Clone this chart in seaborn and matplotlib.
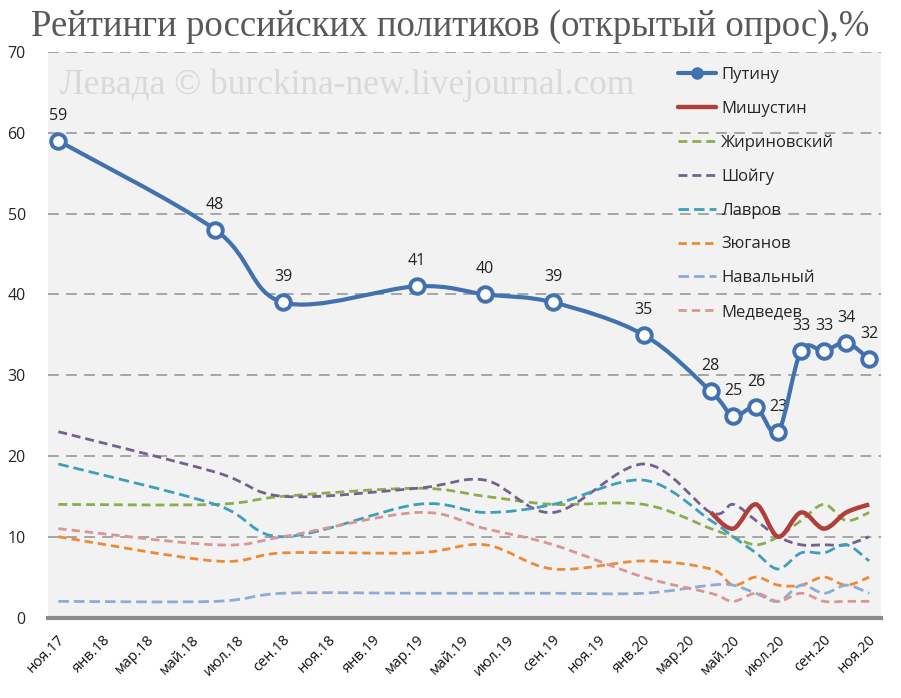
# -*- coding: utf-8 -*-
import numpy as np
import pandas as pd
import seaborn as sns
import matplotlib.pyplot as plt
import matplotlib.dates as mdates
import matplotlib.transforms as mtransforms
from matplotlib.path import Path
from matplotlib.patches import PathPatch
from matplotlib.lines import Line2D

# poll dates (middle of month) and values
dates = ['2017-11-15', '2018-06-15', '2018-09-15', '2019-03-15', '2019-06-15',
         '2019-09-15', '2020-01-15', '2020-04-15', '2020-05-15', '2020-06-15',
         '2020-07-15', '2020-08-15', '2020-09-15', '2020-10-15', '2020-11-15']
putin = [59, 48, 39, 41, 40, 39, 35, 28, 25, 26, 23, 33, 33, 34, 32]
mishustin = [13, 11, 14, 10, 13, 11, 13, 14]   # from апр.20
zhirinovsky = [14, 14, 15, 16, 15, 14, 14, 11, 10, 9, 10, 12, 14, 12, 13]
shoigu = [23, 18, 15, 16, 17, 13, 19, 13, 14, 12, 10, 9, 9, 9, 10]
lavrov = [19, 14, 10, 14, 13, 14, 17, 12, 10, 8, 6, 8, 8, 9, 7]
zyuganov = [10, 7, 8, 8, 9, 6, 7, 6, 4, 5, 4, 4, 5, 4, 5]
navalny = [2, 2, 3, 3, 3, 3, 3, 4, 4, 3, 2, 4, 3, 4, 3]
medvedev = [11, 9, 10, 13, 11, 9, 5, 3, 2, 3, 2, 3, 2, 2, 2]

month_names = ['янв', 'фев', 'мар', 'апр', 'май', 'июн',
               'июл', 'авг', 'сен', 'окт', 'ноя', 'дек']
tick_dates = pd.date_range('2017-11-01', '2020-11-01', freq='2MS')
tick_labels = [month_names[d.month - 1] + '.' + d.strftime('%y') for d in tick_dates]

x = mdates.date2num(pd.to_datetime(dates))

sns.set_style('white', {'axes.facecolor': '#f2f2f2'})
plt.rcParams['font.family'] = ['Open Sans', 'DejaVu Sans']

fig = plt.figure(figsize=(9.01, 6.98), dpi=100)
ax = fig.add_axes([48/901, 1 - 617.5/698, 833/901, 565.5/698])


def smooth(ax, xs, ys, color, lw, dash=None, z=2):
    # excel-like smoothed line (bezier through the points)
    pts = np.column_stack([xs, ys]).astype(float)
    n = len(pts)
    verts = [pts[0]]
    codes = [Path.MOVETO]
    for i in range(n - 1):
        p0 = pts[i - 1] if i > 0 else pts[i]
        p3 = pts[i + 2] if i + 2 < n else pts[i + 1]
        c1 = pts[i] + (pts[i + 1] - p0) / 6
        c2 = pts[i + 1] - (p3 - pts[i]) / 6
        verts += [c1, c2, pts[i + 1]]
        codes += [Path.CURVE4] * 3
    patch = PathPatch(Path(verts, codes), fill=False, edgecolor=color, lw=lw,
                      zorder=z, capstyle='butt')
    if dash is not None:
        patch.set_linestyle((0, dash))
    ax.add_patch(patch)


series = [
    ('Жириновский', zhirinovsky, '#8cad4b', (3.2, 1.8)),
    ('Шойгу', shoigu, '#76608f', (3.2, 1.8)),
    ('Лавров', lavrov, '#3b9fbd', (3.8, 1.8)),
    ('Зюганов', zyuganov, '#ee8a34', (3.0, 1.8)),
    ('Навальный', navalny, '#8eabd4', (3.8, 1.8)),
    ('Медведев', medvedev, '#d99694', (3.0, 1.8)),
]

for name, vals, col, dash in series:
    smooth(ax, x, vals, col, 2.0, dash, z=3)

smooth(ax, x[7:], mishustin, '#b03f3b', 3.2, None, z=4)
smooth(ax, x, putin, '#4171ae', 3.0, None, z=5)

sns.scatterplot(x=x, y=putin, ax=ax, s=110, color='white', edgecolor='#4171ae',
                linewidth=2.8, zorder=6, legend=False)

for xi, v in zip(x, putin):
    ax.annotate(str(v), (xi, v), xytext=(0, 18), textcoords='offset points',
                ha='center', va='center', fontsize=11.5, color='#222222')

ax.set_xlim(mdates.date2num(pd.Timestamp('2017-11-01')),
            mdates.date2num(pd.Timestamp('2020-12-01')))
ax.set_ylim(0, 70)
ax.set_yticks(range(0, 71, 10))
ax.set_yticklabels([str(v) for v in range(0, 71, 10)], fontsize=11.5)
ax.tick_params(axis='y', length=0, pad=16)
ax.set_xticks(mdates.date2num(tick_dates))
ax.set_xticklabels(tick_labels, rotation=45, ha='right', va='center',
                   rotation_mode='anchor', fontsize=10.5, color='#111111')
ax.tick_params(axis='x', length=4.5, width=2, color='#8c8c8c', pad=10)
offset = mtransforms.ScaledTranslation(15/100, 0, fig.dpi_scale_trans)
for t in ax.get_xticklabels():
    t.set_transform(t.get_transform() + offset)

for v in range(10, 71, 10):
    ax.axhline(v, color='#a0a0a0', lw=1.3, dashes=(6, 4), zorder=1)

for s in ['left', 'right', 'top']:
    ax.spines[s].set_visible(False)
ax.spines['bottom'].set_color('#8c8c8c')
ax.spines['bottom'].set_linewidth(3)

fig.text(60/901, 1 - 85/698, 'Левада © burckina-new.livejournal.com',
         fontsize=25.5, family='Liberation Serif', color='#d9d9d9', va='center')
fig.text(0.5, 1 - 27/698, 'Рейтинги российских политиков (открытый опрос),%',
         ha='center', va='center', fontsize=26.5, family='Liberation Serif',
         color='#595959')

handles = [Line2D([], [], color='#4171ae', lw=3, marker='o', markersize=8,
                  markerfacecolor='#4171ae'),
           Line2D([], [], color='#b03f3b', lw=3.2)]
labels = ['Путину', 'Мишустин']
for name, vals, col, dash in series:
    handles.append(Line2D([], [], color=col, lw=2, dashes=dash))
    labels.append(name)
fig.legend(handles, labels, loc='upper left', bbox_to_anchor=(678/901, 1 - 67/698),
           frameon=False, fontsize=12, handlelength=2.3, handletextpad=0.3,
           labelspacing=1.06, borderpad=0, borderaxespad=0)

plt.savefig('out.png', dpi=100)
